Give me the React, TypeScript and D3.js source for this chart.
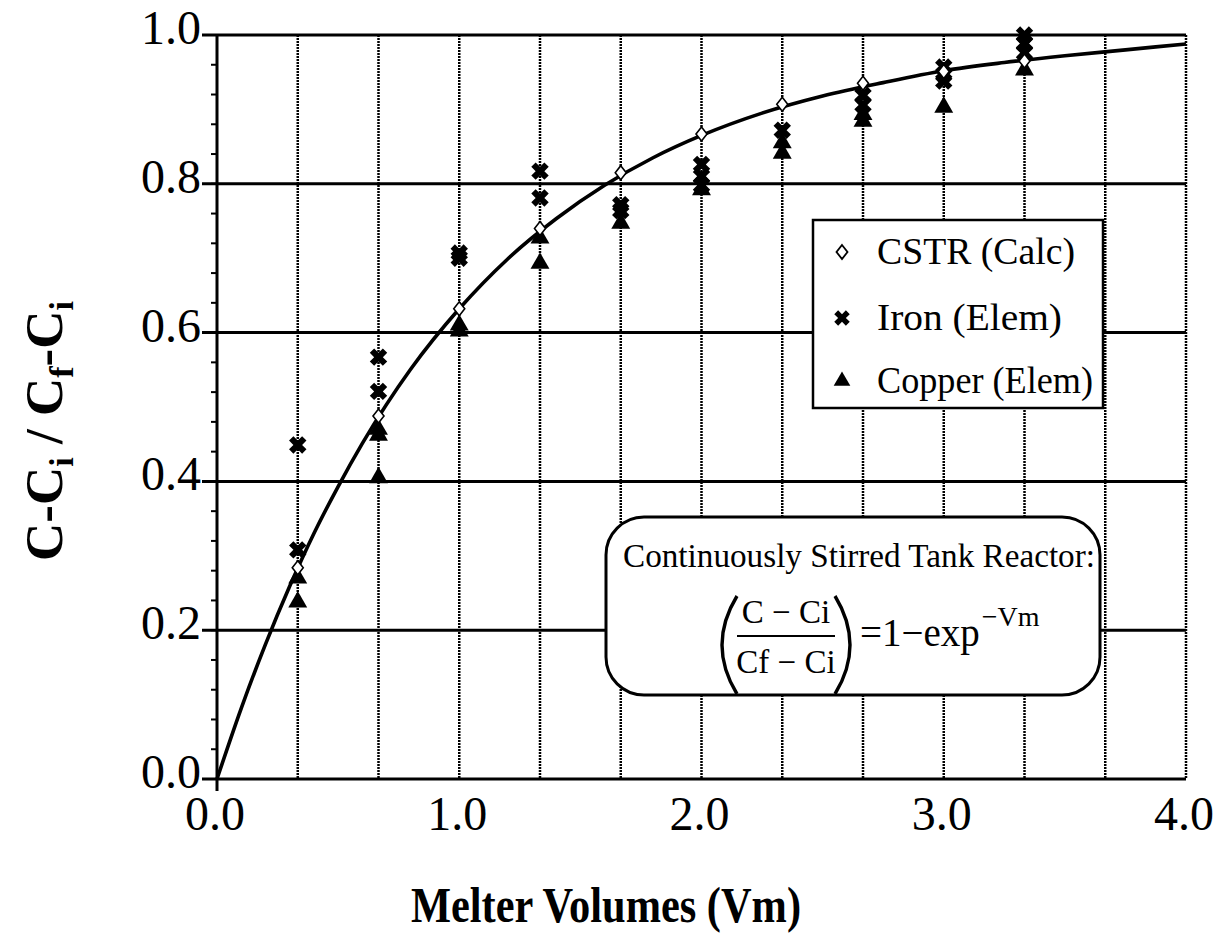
import * as d3 from "d3";

// Melter volumes at which samples were taken
const sampleVm = [1 / 3, 2 / 3, 1, 4 / 3, 5 / 3, 2, 7 / 3, 8 / 3, 3, 10 / 3];

// CSTR (Calc) diamonds
const cstrY = [0.284, 0.488, 0.632, 0.740, 0.815, 0.867, 0.907, 0.935, 0.951, 0.965];

// Iron (Elem) crosses
const ironX = [1 / 3, 1 / 3, 2 / 3, 2 / 3, 1, 1, 4 / 3, 4 / 3, 5 / 3, 5 / 3, 2, 2, 2, 7 / 3, 8 / 3, 8 / 3, 3, 3, 3, 10 / 3, 10 / 3, 10 / 3];
const ironY = [0.449, 0.308, 0.567, 0.521, 0.707, 0.700, 0.817, 0.781, 0.772, 0.764, 0.826, 0.810, 0.798, 0.872, 0.919, 0.906, 0.957, 0.947, 0.938, 1.0, 0.989, 0.976];

// Copper (Elem) triangles
const copperX = [1 / 3, 1 / 3, 2 / 3, 2 / 3, 2 / 3, 1, 1, 4 / 3, 4 / 3, 5 / 3, 2, 7 / 3, 7 / 3, 8 / 3, 8 / 3, 3, 10 / 3];
const copperY = [0.270, 0.238, 0.470, 0.462, 0.405, 0.610, 0.602, 0.727, 0.693, 0.747, 0.792, 0.855, 0.841, 0.893, 0.884, 0.903, 0.953];

// fitted CSTR line
const curveX = [0, 0.1, 0.2, 0.3, 0.4, 0.5, 0.6, 0.8, 1.0, 1.2, 1.4, 1.6, 1.8, 2.0, 2.25, 2.5, 2.75, 3.0, 3.25, 3.5, 3.75, 4.0];
const curveY = [0, 0.095, 0.181, 0.259, 0.33, 0.393, 0.451, 0.551, 0.632, 0.699, 0.753, 0.798, 0.835, 0.865, 0.895, 0.918, 0.936, 0.952, 0.963, 0.972, 0.98, 0.988];

const xTicks = [0, 1, 2, 3, 4];
const yTicks = [0, 0.2, 0.4, 0.6, 0.8, 1.0];
const gridX = d3.range(1, 13).map((i) => i / 3);

const FONT = "'Liberation Serif', serif";

export default function App() {
  const x = d3.scaleLinear().domain([0, 4]).range([217, 1186]);
  const y = d3.scaleLinear().domain([0, 1]).range([779, 35]);
  const minorY = d3.range(0, 1.0001, 0.04);

  const line = d3
    .line<number>()
    .x((_, i) => x(curveX[i]))
    .y((d) => y(d))
    .curve(d3.curveMonotoneX);

  const cross = d3.symbol().type(d3.symbolCross).size(190)();
  const tri = d3.symbol().type(d3.symbolTriangle).size(155)();
  const diamond = "M0,-7L5.5,0L0,7L-5.5,0Z";

  return (
    <svg width={1222} height={941} style={{ position: "absolute", left: 0, top: 0, background: "#fff", fontFamily: FONT }}>
      {/* vertical dotted grid */}
      {gridX.map((v, i) => (
        <line key={"gx" + i} x1={x(v)} x2={x(v)} y1={y(1)} y2={y(0)} stroke="#000" strokeWidth={2.5} strokeDasharray="2,1" />
      ))}
      {/* horizontal solid grid */}
      {yTicks.slice(1).map((v) => (
        <line key={"gy" + v} x1={x(0) - 15} x2={x(4)} y1={y(v)} y2={y(v)} stroke="#000" strokeWidth={3} />
      ))}
      {/* axes */}
      <line x1={x(0)} x2={x(0)} y1={y(1)} y2={y(0) + 12} stroke="#000" strokeWidth={3} />
      <line x1={x(0) - 15} x2={x(4)} y1={y(0)} y2={y(0)} stroke="#000" strokeWidth={3} />
      {minorY.map((v, i) => (
        <line key={"mt" + i} x1={x(0) - 6} x2={x(0)} y1={y(v)} y2={y(v)} stroke="#000" strokeWidth={2} />
      ))}
      {yTicks.map((v) => (
        <text key={"yl" + v} x={x(0) - 16} y={y(v) + 9} textAnchor="end" fontSize={48}>
          {v.toFixed(1)}
        </text>
      ))}
      {xTicks.map((v) => (
        <text key={"xl" + v} x={x(v) - 2} y={y(0) + 51} textAnchor="middle" fontSize={48}>
          {v.toFixed(1)}
        </text>
      ))}

      {/* curve */}
      <path d={line(curveY) || ""} fill="none" stroke="#000" strokeWidth={3.6} />

      {/* data */}
      {copperX.map((v, i) => (
        <path key={"cu" + i} d={tri || ""} transform={`translate(${x(v)},${y(copperY[i])})`} fill="#000" />
      ))}
      {ironX.map((v, i) => (
        <path key={"fe" + i} d={cross || ""} transform={`translate(${x(v)},${y(ironY[i])}) rotate(45)`} fill="#000" />
      ))}
      {sampleVm.map((v, i) => (
        <path key={"cs" + i} d={diamond} transform={`translate(${x(v)},${y(cstrY[i])})`} fill="#fff" stroke="#000" strokeWidth={1.6} />
      ))}

      {/* legend */}
      <rect x={813} y={220} width={290} height={188} fill="#fff" stroke="#000" strokeWidth={2.5} />
      <path d={diamond} transform="translate(842,252)" fill="#fff" stroke="#000" strokeWidth={1.8} />
      <text x={877} y={264} fontSize={37} textLength={198} lengthAdjust="spacingAndGlyphs">CSTR (Calc)</text>
      <path d={d3.symbol().type(d3.symbolCross).size(150)() || ""} transform="translate(842,318) rotate(45)" fill="#000" />
      <text x={877} y={330} fontSize={37} textLength={185} lengthAdjust="spacingAndGlyphs">Iron (Elem)</text>
      <path d={d3.symbol().type(d3.symbolTriangle).size(120)() || ""} transform="translate(842,381)" fill="#000" />
      <text x={877} y={393} fontSize={37} textLength={216} lengthAdjust="spacingAndGlyphs">Copper (Elem)</text>

      {/* equation box */}
      <rect x={606} y={517} width={494} height={178} rx={38} ry={38} fill="#fff" stroke="#000" strokeWidth={3} />
      <text x={623} y={567} fontSize={33} textLength={472} lengthAdjust="spacingAndGlyphs">
        Continuously Stirred Tank Reactor:
      </text>
      <path d="M737,596 Q707,645 737,694" fill="none" stroke="#000" strokeWidth={3.4} />
      <path d="M835,596 Q865,645 835,694" fill="none" stroke="#000" strokeWidth={3.4} />
      <text x={786} y={623} fontSize={33} textAnchor="middle">C − Ci</text>
      <line x1={737} x2={835} y1={636} y2={636} stroke="#000" strokeWidth={2.2} />
      <text x={786} y={673} fontSize={33} textAnchor="middle">Cf − Ci</text>
      <text x={860} y={646} fontSize={39}>
        =1−exp<tspan fontSize={28} dy={-20} dx={2}>−Vm</tspan>
      </text>

      {/* axis titles */}
      <text x={606} y={922} textAnchor="middle" fontSize={51} fontWeight="bold" textLength={390} lengthAdjust="spacingAndGlyphs">
        Melter Volumes (Vm)
      </text>
      <text transform="translate(62,431) rotate(-90)" textAnchor="middle" fontSize={53} fontWeight="bold">
        C-C<tspan fontSize={34} dy={11}>i</tspan>
        <tspan dy={-11}> / C</tspan>
        <tspan fontSize={34} dy={11}>f</tspan>
        <tspan dy={-11}>-C</tspan>
        <tspan fontSize={34} dy={11}>i</tspan>
      </text>
    </svg>
  );
}
